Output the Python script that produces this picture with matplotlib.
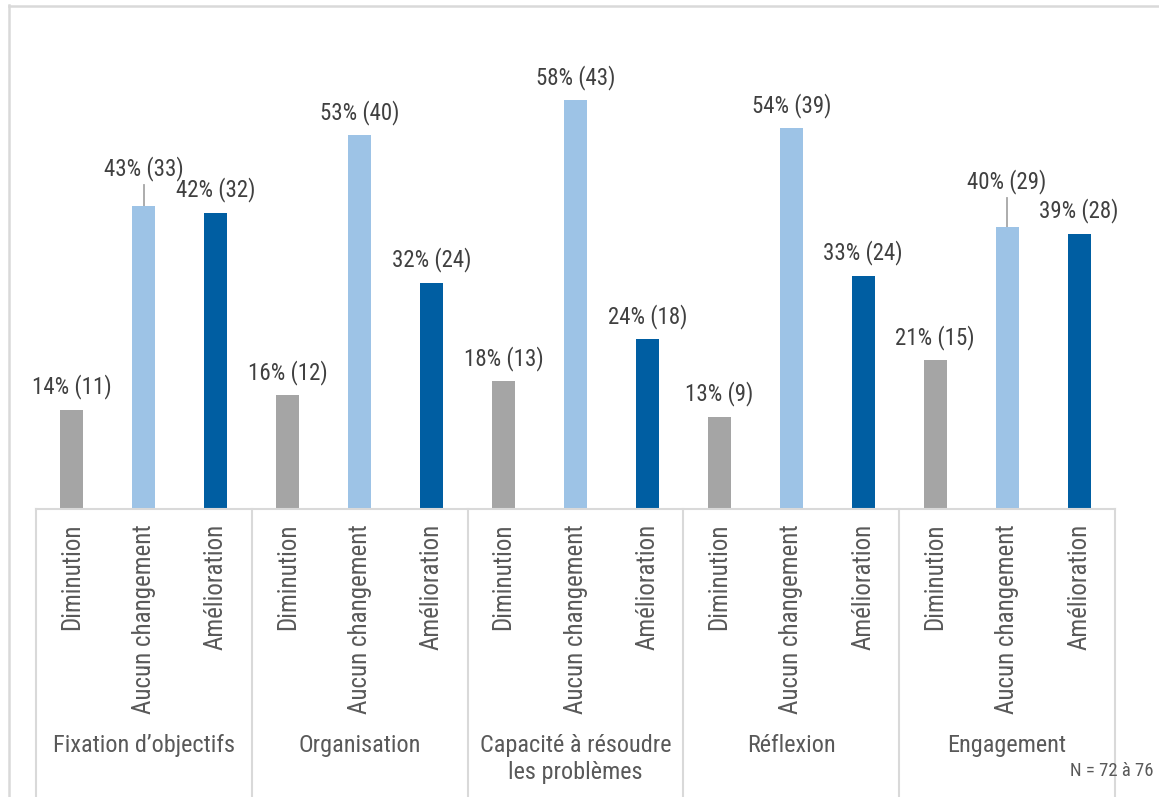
import matplotlib
matplotlib.use("Agg")
import matplotlib.pyplot as plt
from matplotlib.lines import Line2D

plt.rcParams['font.family'] = ['Liberation Sans Narrow', 'Roboto Condensed', 'DejaVu Sans']

groups = ["Fixation d’objectifs", "Organisation", "Capacité à résoudre\nles problèmes",
          "Réflexion", "Engagement"]
responses = ["Diminution", "Aucun changement", "Amélioration"]
pct = [
    [14, 43, 42],
    [16, 53, 32],
    [18, 58, 24],
    [13, 54, 33],
    [21, 40, 39],
]
counts = [
    [11, 33, 32],
    [12, 40, 24],
    [13, 43, 18],
    [9, 39, 24],
    [15, 29, 28],
]
note = "N = 72 à 76"

colors = ["#a5a5a5", "#9dc3e6", "#005ea2"]
# extra lift (px) for labels with leader lines
lift = {(0, 1): 14, (4, 1): 22}

W, H = 1159, 797
fig = plt.figure(figsize=(W / 100, H / 100), dpi=100)
ax_left, ax_right, ax_bottom, ax_top = 36, 1115, 508, 20
ax = fig.add_axes([ax_left / W, 1 - ax_bottom / H, (ax_right - ax_left) / W, (ax_bottom - ax_top) / H])

ymax = 69.4
ax.set_xlim(-0.5, 14.5)
ax.set_ylim(0, ymax)
ax.axis('off')

px_per_unit = (ax_bottom - ax_top) / ymax
for g in range(len(groups)):
    for r in range(3):
        x = g * 3 + r
        v = pct[g][r]
        ax.bar(x, v, width=0.32, color=colors[r], zorder=2)
        extra = lift.get((g, r), 0)
        off = 23 + extra
        ax.annotate(f"{v}% ({counts[g][r]})", xy=(x, v), xytext=(0, off * 0.72),
                    textcoords='offset points', ha='center', va='center',
                    fontsize=16.5, color='#404040')
        if extra:
            y0 = v
            y1 = v + (off - 16) / px_per_unit
            ax.plot([x, x], [y0, y1], color='#a6a6a6', lw=1.3, zorder=1)

# axis line and separators in figure pixel coords
def fx(px):
    return px / W

def fy(py):
    return 1 - py / H

line_col = '#d9d9d9'
fig.add_artist(Line2D([fx(ax_left), fx(ax_right)], [fy(509), fig_y := fy(509)], color=line_col, lw=1.5))
slot = (ax_right - ax_left) / 15
for k in range(6):
    xp = ax_left + k * 3 * slot
    fig.add_artist(Line2D([fx(xp), fx(xp)], [fy(509), fy(797)], color=line_col, lw=1.5))

# category labels
for g in range(len(groups)):
    for r in range(3):
        xp = ax_left + (g * 3 + r + 0.5) * slot
        fig.text(fx(xp), fy(524), responses[r], rotation=90, ha='center', va='top',
                 fontsize=18, color='#595959')
    xc = ax_left + (g * 3 + 1.5) * slot
    fig.text(fx(xc), fy(734), groups[g], ha='center', va='top', fontsize=17.5,
             color='#595959', linespacing=1.2)

fig.text(fx(1153), fy(771), note, ha='right', va='center', fontsize=13.5, color='#595959')

# outer border
fig.add_artist(Line2D([fx(8.5), fx(8.5)], [fy(5), fy(797)], color=line_col, lw=1.8))
fig.add_artist(Line2D([fx(8.5), fx(1159)], [fy(5.5), fy(5.5)], color=line_col, lw=1.8))

fig.savefig("out.png", dpi=100, facecolor='white')
